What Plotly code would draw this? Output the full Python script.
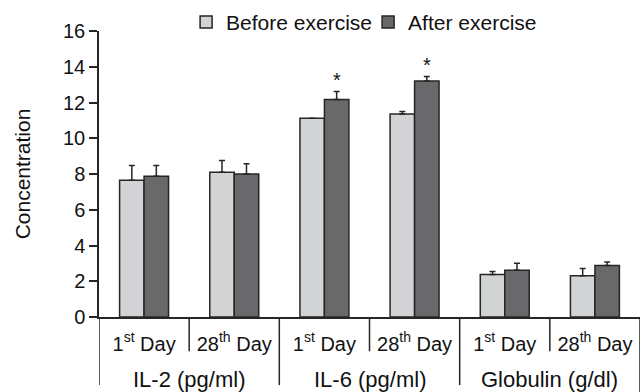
import plotly.graph_objects as go

# ---- data ----
days = ["1<sup>st</sup> Day", "28<sup>th</sup> Day"] * 3
groups = ["IL-2 (pg/ml)", "IL-6 (pg/ml)", "Globulin (g/dl)"]
before_vals = [7.65, 8.10, 11.12, 11.35, 2.38, 2.31]
before_err_top = [8.47, 8.75, 11.12, 11.49, 2.54, 2.71]
after_vals = [7.88, 8.00, 12.17, 13.20, 2.62, 2.88]
after_err_top = [8.47, 8.57, 12.62, 13.46, 3.01, 3.08]
significant_after = [False, False, True, True, False, False]
y_ticks = [0, 2, 4, 6, 8, 10, 12, 14, 16]

LIGHT = "#d2d3d5"
DARK = "#69696c"
INK = "#262626"
FONT = "Liberation Sans, Arial, sans-serif"

xpos = list(range(len(days)))

fig = go.Figure()
fig.add_trace(go.Bar(
    x=xpos, y=before_vals, name="Before exercise",
    marker=dict(color=LIGHT, line=dict(color=INK, width=1.5)),
    error_y=dict(type="data", symmetric=False,
                 array=[t - v for t, v in zip(before_err_top, before_vals)],
                 arrayminus=[0] * len(before_vals),
                 color=INK, thickness=1.5, width=3),
))
fig.add_trace(go.Bar(
    x=xpos, y=after_vals, name="After exercise",
    marker=dict(color=DARK, line=dict(color=INK, width=1.5)),
    error_y=dict(type="data", symmetric=False,
                 array=[t - v for t, v in zip(after_err_top, after_vals)],
                 arrayminus=[0] * len(after_vals),
                 color=INK, thickness=1.5, width=3),
))

bargap = 0.457
bar_w = (1 - bargap) / 2

shapes = []
annotations = []
n = len(days)
for k in range(n + 1):
    xb = k - 0.5
    if k == n:
        y1 = -0.262
    elif k % 2 == 0:
        y1 = -0.238
    else:
        y1 = -0.12
    shapes.append(dict(type="line", xref="x", yref="paper", x0=xb, x1=xb,
                       y0=0, y1=y1, line=dict(color=INK, width=1.5)))

for gi, g in enumerate(groups):
    annotations.append(dict(x=2 * gi + 0.5, xref="x", y=-0.218, yref="paper",
                            text=g, showarrow=False, yanchor="middle",
                            font=dict(family=FONT, size=22, color="#111")))

for i, sig in enumerate(significant_after):
    if sig:
        annotations.append(dict(x=xpos[i] + bar_w / 2, xref="x",
                                y=after_err_top[i], yref="y", text="*",
                                showarrow=False, yanchor="bottom", yshift=-2,
                                font=dict(family=FONT, size=20, color="#111")))

fig.update_layout(
    width=642, height=392,
    margin=dict(l=99, r=2, t=29, b=75),
    paper_bgcolor="white", plot_bgcolor="white",
    barmode="group", bargap=bargap, bargroupgap=0,
    font=dict(family=FONT, size=20, color="#111"),
    legend=dict(orientation="h", x=0.161, xanchor="left", y=1.03,
                yanchor="middle", entrywidth=137, entrywidthmode="pixels",
                font=dict(family=FONT, size=21, color="#111"),
                bgcolor="rgba(0,0,0,0)"),
    shapes=shapes, annotations=annotations,
    xaxis=dict(range=[-0.5, n - 0.5], tickvals=xpos, ticktext=days,
               showline=True, linecolor=INK, linewidth=1.5, ticks="",
               showgrid=False, zeroline=False, ticklabelstandoff=8,
               automargin=False,
               tickfont=dict(family=FONT, size=20, color="#111")),
    yaxis=dict(range=[0, 16], tickvals=y_ticks, showline=True, linecolor=INK,
               linewidth=1.5, ticks="outside", ticklen=8, tickwidth=1.5,
               tickcolor=INK, showgrid=False, zeroline=False, automargin=False,
               tickfont=dict(family=FONT, size=20, color="#111"),
               title=dict(text="Concentration", standoff=27,
                          font=dict(family=FONT, size=21, color="#111"))),
)

fig.write_html("out.html", config={"displayModeBar": False},
               post_script="document.body.style.margin='0';"
                           "document.body.style.overflow='hidden';")
